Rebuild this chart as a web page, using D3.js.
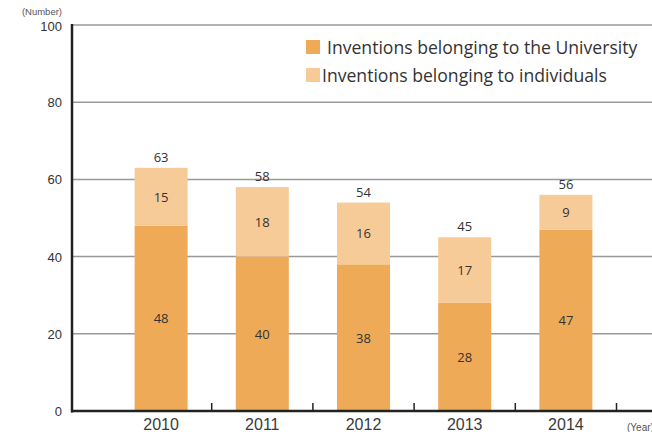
<!DOCTYPE html>
<html><head><meta charset="utf-8">
<script src="https://cdn.jsdelivr.net/npm/d3@7"></script>
<style>body{margin:0;background:#fff}svg{display:block}</style>
</head><body>
<svg id="c" width="652" height="432"></svg>
<script>
const years = ["2010","2011","2012","2013","2014"];
const university = [48,40,38,28,47];
const individuals = [15,18,16,17,9];
const totals = [63,58,54,45,56];
const yTicks = [0,20,40,60,80,100];
const seriesNames = ["Inventions belonging to the University","Inventions belonging to individuals"];
const colors = ["#EFAA57","#F7CB97"];

(function(){
const svg = d3.select("#c");
const mLeft = 72, mRight = 652, mTop = 25, mBottom = 411;
const x = d3.scaleBand().domain(years).range([110.5, 616.5]).paddingInner(0).paddingOuter(0);
const y = d3.scaleLinear().domain([0,100]).range([mBottom, mTop]);
const barW = 53;
const txt = "#333";

// gridlines
svg.append("g").selectAll("line").data(yTicks.filter(d=>d>0)).join("line")
  .attr("x1", mLeft).attr("x2", mRight).attr("y1", d=>y(d)).attr("y2", d=>y(d))
  .attr("stroke", "#999").attr("stroke-width", 1.5);

// bars
const g = svg.append("g");
years.forEach((yr,i)=>{
  const cx = x(yr) + x.bandwidth()/2;
  g.append("rect").attr("x", cx-barW/2).attr("width", barW)
    .attr("y", y(university[i])).attr("height", y(0)-y(university[i])).attr("fill", colors[0]);
  g.append("rect").attr("x", cx-barW/2).attr("width", barW)
    .attr("y", y(university[i]+individuals[i])).attr("height", y(university[i])-y(university[i]+individuals[i])).attr("fill", colors[1]);
  g.append("text").attr("x", cx).attr("y", y(university[i]/2)+5).attr("text-anchor","middle")
    .attr("font-family","Open Sans, sans-serif").attr("font-size",13).attr("fill",txt).text(university[i]);
  g.append("text").attr("x", cx).attr("y", y(university[i]+individuals[i]/2)+5).attr("text-anchor","middle")
    .attr("font-family","Open Sans, sans-serif").attr("font-size",13).attr("fill",txt).text(individuals[i]);
  g.append("text").attr("x", cx).attr("y", y(totals[i])-6).attr("text-anchor","middle")
    .attr("font-family","Open Sans, sans-serif").attr("font-size",13).attr("fill",txt).text(totals[i]);
});

// y axis labels
svg.append("g").selectAll("text").data(yTicks).join("text")
  .attr("x", 62).attr("y", d=>y(d)+(d===100?6:5)).attr("text-anchor","end")
  .attr("font-family","Liberation Sans, Arial, sans-serif").attr("font-size",13).attr("fill",txt).text(d=>d);
svg.append("text").attr("x", 62).attr("y", 15).attr("text-anchor","end")
  .attr("font-family","Liberation Sans, Arial, sans-serif").attr("font-size",9.5).attr("fill","#555").text("(Number)");

// axes lines
svg.append("line").attr("x1", mLeft).attr("x2", mLeft).attr("y1", mTop-1).attr("y2", mBottom+1.5)
  .attr("stroke","#222").attr("stroke-width",2.5);
svg.append("line").attr("x1", mLeft-1).attr("x2", mRight).attr("y1", mBottom).attr("y2", mBottom)
  .attr("stroke","#222").attr("stroke-width",2.5);

// category separator ticks
const seps = years.slice(1).map(d=>x(d));
seps.push(x(years[years.length-1]) + x.bandwidth());
svg.append("g").selectAll("line").data(seps).join("line")
  .attr("x1", d=>d).attr("x2", d=>d).attr("y1", mBottom-8).attr("y2", mBottom)
  .attr("stroke","#222").attr("stroke-width",1.5);

// x labels
svg.append("g").selectAll("text").data(years).join("text")
  .attr("x", d=>x(d)+x.bandwidth()/2).attr("y", 430).attr("text-anchor","middle")
  .attr("font-family","Liberation Sans, Arial, sans-serif").attr("font-size",16).attr("fill","#3a3a3a").text(d=>d);
svg.append("text").attr("x", 627).attr("y", 431)
  .attr("font-family","Liberation Sans, Arial, sans-serif").attr("font-size",10).attr("fill","#555").text("(Year)");

// legend
const leg = svg.append("g");
const legX = [327, 322];
seriesNames.forEach((n,i)=>{
  leg.append("rect").attr("x", 306).attr("y", 40+i*28).attr("width", 14).attr("height", 14).attr("fill", colors[i]);
  leg.append("text").attr("x", legX[i]).attr("y", 54+i*28)
    .attr("font-family","Open Sans, sans-serif").attr("font-size",17.6).attr("fill",txt).text(n);
});
})();
</script>
</body></html>
